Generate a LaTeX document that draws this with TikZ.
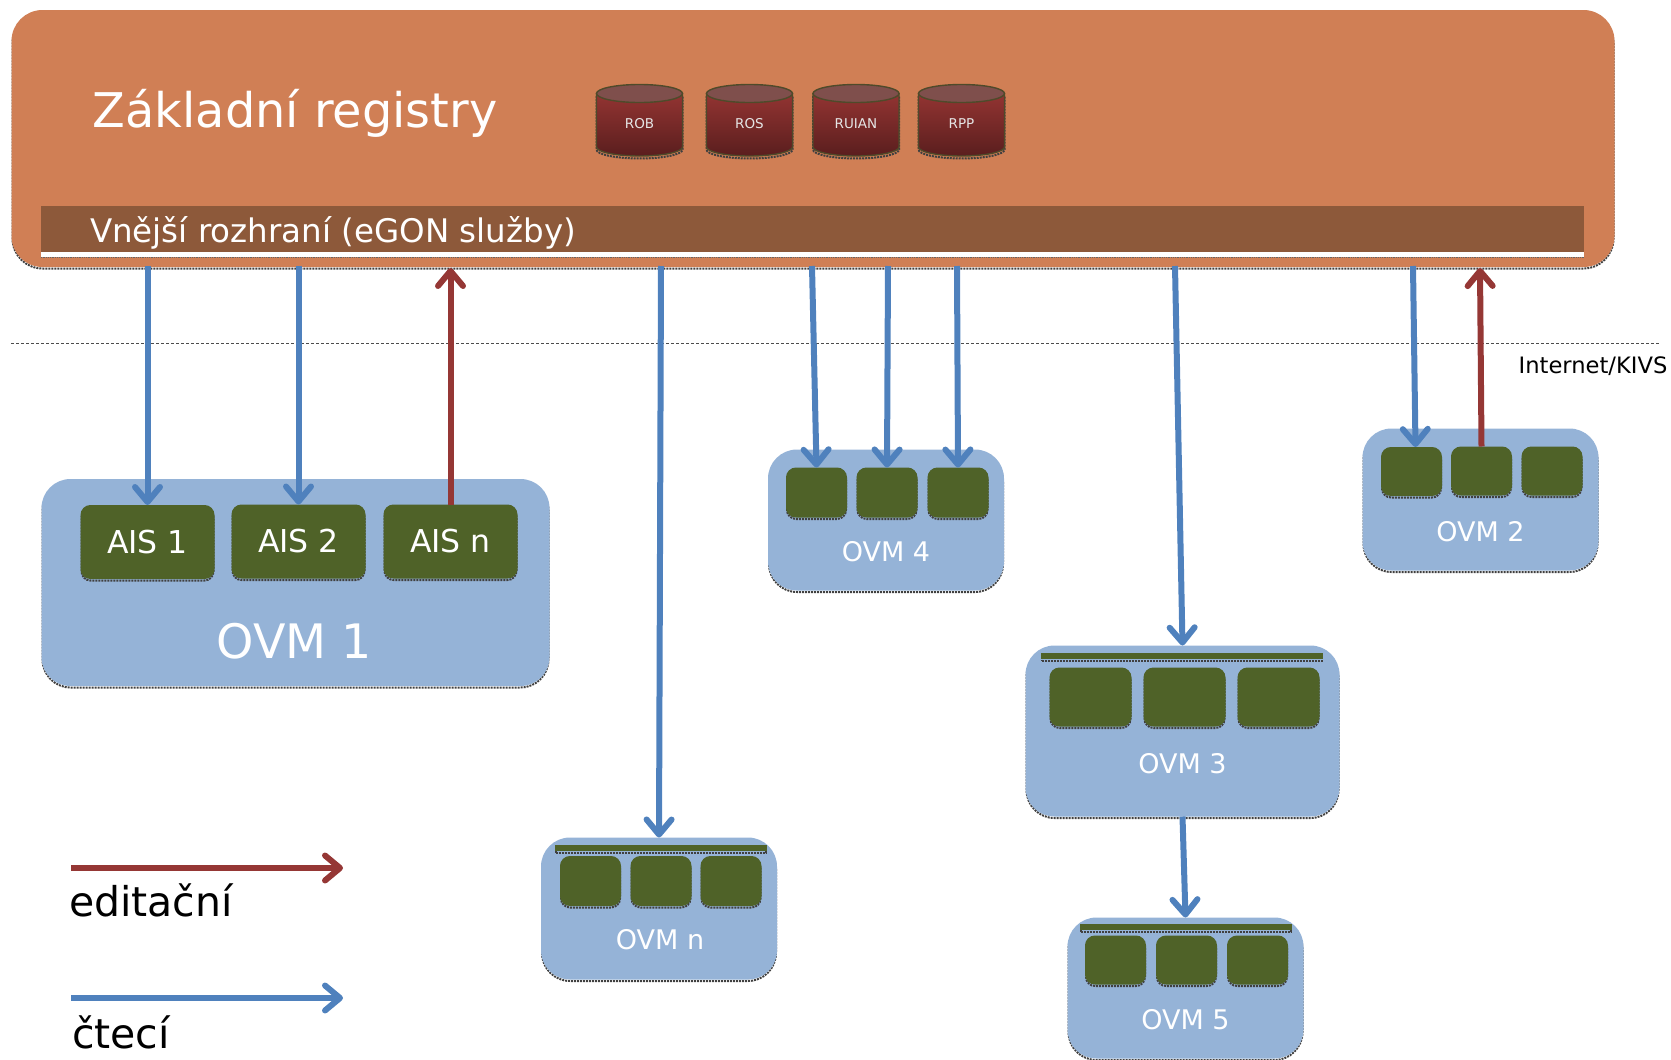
\documentclass[tikz,border=0pt]{standalone}
\usepackage{fontspec}
\setmainfont{DejaVu Sans}
\usepackage{xcolor}
\definecolor{ColReg}{RGB}{208,127,85}
\definecolor{ColBand}{RGB}{141,89,58}
\definecolor{ColOvm}{RGB}{149,179,215}
\definecolor{ColAis}{RGB}{79,98,40}
\definecolor{ColRead}{RGB}{79,129,189}
\definecolor{ColEdit}{RGB}{149,55,53}
\definecolor{ColDrumA}{RGB}{147,52,50}
\definecolor{ColDrumB}{RGB}{90,30,30}
\definecolor{ColLid}{RGB}{127,79,76}
\definecolor{ColRim}{RGB}{79,74,42}
\usetikzlibrary{shapes}
\usetikzlibrary{shadows}
\usetikzlibrary{arrows.meta}
\tikzstyle{Shade}=[general shadow={draw=black!75,densely dotted,line width=2pt,
shadow xshift=0pt,shadow yshift=-2.5pt}]
\tikzstyle{Registry}=[rectangle,rounded corners=30pt,draw=ColReg,line width=2pt,fill=ColReg,Shade,inner sep=0pt]
\tikzstyle{Band}=[rectangle,fill=ColBand,inner sep=0pt]
\tikzstyle{Strip}=[rectangle,fill=white,inner sep=0pt]
\tikzstyle{Ovm}=[rectangle,rounded corners=28pt,draw=ColOvm,line width=2pt,fill=ColOvm,Shade,inner sep=0pt]
\tikzstyle{Ais}=[rectangle,rounded corners=9pt,draw=ColAis,line width=2pt,fill=ColAis,Shade,inner sep=0pt,
text=white,font=\fontsize{31.5}{36}\selectfont]
\tikzstyle{Bar}=[rectangle,draw=ColAis,line width=2pt,fill=ColAis,Shade,inner sep=0pt]
\tikzstyle{Drum}=[draw=ColRim,line width=1.4pt,top color=ColDrumA,bottom color=ColDrumB,Shade]
\tikzstyle{Lid}=[ellipse,draw=ColRim,line width=1.4pt,fill=ColLid,inner sep=0pt,
minimum width=86pt,minimum height=18pt]
\tikzstyle{DrumText}=[text=white!90!black,inner sep=0pt,font=\fontsize{13.5}{16}\selectfont]
\tikzstyle{Read}=[draw=ColRead,line width=6pt,-{Straight Barb[length=15pt,width=25pt,round]}]
\tikzstyle{Edit}=[draw=ColEdit,line width=6pt,-{Straight Barb[length=15pt,width=25pt,round]}]
\tikzstyle{Title}=[text=white,inner sep=0pt]
\tikzstyle{Legend}=[text=black,inner sep=0pt,font=\fontsize{41}{48}\selectfont]
\begin{document}
\begin{tikzpicture}[x=1pt,y=-1pt]
        \useasboundingbox(0,0)rectangle(1671,1060);
        \node[Registry,minimum width=1601pt,minimum height=255pt](zr)at(813,138.5){};
        \node[Band,minimum width=1543pt,minimum height=46pt](band)at(812.5,229){};
        \node[Strip,minimum width=1543pt,minimum height=5pt](strip)at(812.5,254.5){};
        \draw[black!60,densely dotted,line width=.8pt](strip.south west)--(strip.south east);
        \node[Title,font=\fontsize{47.8}{56}\selectfont](ztitle)at(295,113){Základní registry};
        \node[Title,font=\fontsize{32.5}{38}\selectfont](bandtitle)at(333,233){Vnější rozhraní (eGON služby)};
        \draw[Drum](596.5,93.5)--(596.5,147)arc[start angle=180,end angle=360,x radius=43pt,y radius=9pt]--(682.5,93.5)--cycle;
        \draw[Drum](706.5,93.5)--(706.5,147)arc[start angle=180,end angle=360,x radius=43pt,y radius=9pt]--(792.5,93.5)--cycle;
        \draw[Drum](813,93.5)--(813,147)arc[start angle=180,end angle=360,x radius=43pt,y radius=9pt]--(899,93.5)--cycle;
        \draw[Drum](918.5,93.5)--(918.5,147)arc[start angle=180,end angle=360,x radius=43pt,y radius=9pt]--(1004.5,93.5)--cycle;
        \node[Lid](roblid)at(639.5,93.5){};
        \node[Lid](roslid)at(749.5,93.5){};
        \node[Lid](ruianlid)at(856,93.5){};
        \node[Lid](rpplid)at(961.5,93.5){};
        \node[DrumText](rob)at(639.5,124){ROB};
        \node[DrumText](ros)at(749.5,124){ROS};
        \node[DrumText](ruian)at(856,124){RUIAN};
        \node[DrumText](rpp)at(961.5,124){RPP};
        \draw[black!70,densely dashed,line width=.7pt](11,343)--(1660,343);
        \node[inner sep=0pt,font=\fontsize{22.6}{27}\selectfont](net)at(1593,366){Internet/KIVS};
        \node[Ovm,minimum width=506pt,minimum height=205pt](ovm1)at(295.5,582.5){};
        \node[Ais,minimum width=132pt,minimum height=72pt](ais1)at(147.5,542){AIS 1};
        \node[Ais,minimum width=132pt,minimum height=72pt](ais2)at(298.5,541.5){AIS 2};
        \node[Ais,minimum width=132pt,minimum height=72pt](aisn)at(450.5,541.5){AIS n};
        \node[Title,font=\fontsize{47.5}{54}\selectfont](ovm1t)at(294.5,641){OVM 1};
        \node[Ovm,minimum width=234pt,minimum height=139pt](ovm4)at(886,520){};
        \node[Ais,minimum width=59pt,minimum height=48pt](o4a)at(816.5,492.5){};
        \node[Ais,minimum width=59pt,minimum height=48pt](o4b)at(887,492.5){};
        \node[Ais,minimum width=59pt,minimum height=48pt](o4c)at(958,492.5){};
        \node[Title,font=\fontsize{27}{32}\selectfont](ovm4t)at(886,551.5){OVM 4};
        \node[Ovm,minimum width=234pt,minimum height=140pt](ovm2)at(1480.5,499.5){};
        \node[Ais,minimum width=59pt,minimum height=47pt](o2a)at(1411.5,471.5){};
        \node[Ais,minimum width=59pt,minimum height=47pt](o2b)at(1481.5,471){};
        \node[Ais,minimum width=59pt,minimum height=47pt](o2c)at(1552,471){};
        \node[Title,font=\fontsize{27}{32}\selectfont](ovm2t)at(1480.5,531.5){OVM 2};
        \node[Ovm,minimum width=312pt,minimum height=169pt](ovm3)at(1182.5,731){};
        \node[Bar,minimum width=280pt,minimum height=4pt](o3bar)at(1182,656){};
        \node[Ais,minimum width=80pt,minimum height=57pt](o3a)at(1090.5,697){};
        \node[Ais,minimum width=80pt,minimum height=57pt](o3b)at(1184.5,697){};
        \node[Ais,minimum width=80pt,minimum height=57pt](o3c)at(1278.5,697){};
        \node[Title,font=\fontsize{27}{32}\selectfont](ovm3t)at(1182.5,763.5){OVM 3};
        \node[Ovm,minimum width=234pt,minimum height=139pt](ovm5)at(1185.5,988){};
        \node[Bar,minimum width=210pt,minimum height=4pt](o5bar)at(1186,927){};
        \node[Ais,minimum width=59pt,minimum height=47pt](o5a)at(1115.5,960){};
        \node[Ais,minimum width=59pt,minimum height=47pt](o5b)at(1186.5,960){};
        \node[Ais,minimum width=59pt,minimum height=47pt](o5c)at(1257.5,960){};
        \node[Title,font=\fontsize{27}{32}\selectfont](ovm5t)at(1185.5,1019.5){OVM 5};
        \node[Ovm,minimum width=234pt,minimum height=140pt](ovmn)at(659,908.5){};
        \node[Bar,minimum width=210pt,minimum height=4pt](onbar)at(661,848){};
        \node[Ais,minimum width=59pt,minimum height=48pt](ona)at(590.5,881){};
        \node[Ais,minimum width=59pt,minimum height=48pt](onb)at(661,881){};
        \node[Ais,minimum width=59pt,minimum height=48pt](onc)at(731,881){};
        \node[Title,font=\fontsize{27}{32}\selectfont](ovmnt)at(660,939.5){OVM n};
        \coordinate(r1)at(147.5,266);
        \coordinate(r2)at(298.5,266);
        \coordinate(e1)at(450.5,268);
        \coordinate(r3)at(661,266);
        \coordinate(r4)at(812,266);
        \coordinate(r5)at(888,266);
        \coordinate(r6)at(957,266);
        \coordinate(r7)at(1175,266);
        \coordinate(r8)at(1413,266);
        \coordinate(e2)at(1480,268);
        \draw[Read](r1)--(ais1.north);
        \draw[Read](r2)--(ais2.north);
        \draw[Edit](aisn.north)--(e1);
        \draw[Read](r3)--(ovmn.north);
        \draw[Read](r4)--(o4a.north);
        \draw[Read](r5)--(o4b.north);
        \draw[Read](r6)--(o4c.north);
        \draw[Read](r7)--(ovm3.north);
        \draw[Read](r8)--([xshift=4pt]o2a.north);
        \draw[Edit](o2b.north)--(e2);
        \draw[Read](ovm3.south)--(ovm5.north);
        \coordinate(le1)at(71,868);
        \coordinate(le2)at(343,868);
        \coordinate(lr1)at(71,998);
        \coordinate(lr2)at(343,998);
        \draw[Edit](le1)--(le2);
        \draw[Read](lr1)--(lr2);
        \node[Legend](legedit)at(151,900){editační};
        \node[Legend](legread)at(121,1032){čtecí};
\end{tikzpicture}
\end{document}
